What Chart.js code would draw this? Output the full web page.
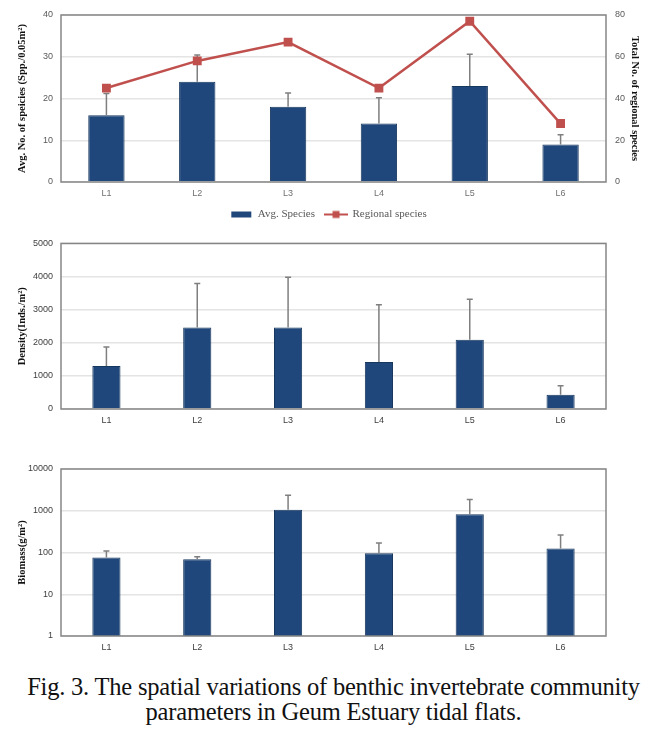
<!DOCTYPE html>
<html>
<head>
<meta charset="utf-8">
<script src="https://cdn.jsdelivr.net/npm/chart.js@4.4.0/dist/chart.umd.min.js"></script>
<style>
  html, body { margin: 0; padding: 0; background: #fff; }
  body { width: 667px; height: 735px; position: relative; overflow: hidden; }
  canvas { position: absolute; left: 0; }
  #caption {
    position: absolute; left: 0; top: 674px; width: 667px;
    text-align: center; font-family: "Liberation Serif", "DejaVu Serif", serif;
    font-size: 24.5px; line-height: 25px; color: #111; letter-spacing: -0.2px;
  }
</style>
</head>
<body>
<canvas id="speciesChart" width="667" height="230" style="top:0px"></canvas>
<canvas id="densityChart" width="667" height="200" style="top:230px"></canvas>
<canvas id="biomassChart" width="667" height="220" style="top:440px"></canvas>
<div id="caption">Fig. 3. The spatial variations of benthic invertebrate community<br>parameters in Geum Estuary tidal flats.</div>
<script>
// Estações
const sites = ['L1', 'L2', 'L3', 'L4', 'L5', 'L6'];

// Gráfico 1: número médio de espécies e espécies regionais
const avgSpecies = [16, 24, 18, 14, 23, 9];
const avgSpeciesSd = [5.2, 6.4, 3.3, 6.2, 7.6, 2.3];
const regionalSpecies = [45, 58, 67, 45, 77, 28];

// Gráfico 2: densidade
const density = [1300, 2460, 2460, 1420, 2090, 430];
const densitySd = [570, 1330, 1520, 1730, 1220, 270];

// Gráfico 3: biomassa (escala log)
const biomass = [76, 69, 1050, 96, 820, 125];
const biomassSd = [32, 10, 1290, 74, 1050, 137];
const biomassTicks = [1, 10, 100, 1000, 10000];

const barColor = '#1f477b';
const lineColor = '#c0504d';
const gridColor = '#e4e4e4';
const tickFont = { family: 'Liberation Sans', size: 9 };
const titleFont = { family: 'Liberation Serif', size: 10.5, weight: 'bold' };

// Barras de erro (só a parte de cima) + moldura da área do gráfico
const errorBarPlugin = {
    id: 'errorBars',
    afterDatasetDraw(chart, args, opts) {
        if (args.meta.type !== 'bar' || !opts.sd) return;
        const ctx = chart.ctx;
        const yScale = chart.scales[args.meta.yAxisID];
        const values = chart.data.datasets[args.index].data;
        ctx.save();
        ctx.strokeStyle = '#7f7f7f';
        ctx.lineWidth = 1.5;
        args.meta.data.forEach((bar, i) => {
            const yTop = yScale.getPixelForValue(values[i] + opts.sd[i]);
            const yBase = yScale.getPixelForValue(values[i]);
            ctx.beginPath();
            ctx.moveTo(bar.x, yBase);
            ctx.lineTo(bar.x, yTop);
            ctx.moveTo(bar.x - 3, yTop);
            ctx.lineTo(bar.x + 3, yTop);
            ctx.stroke();
        });
        ctx.restore();
    },
    afterDraw(chart) {
        const a = chart.chartArea;
        const ctx = chart.ctx;
        ctx.save();
        ctx.strokeStyle = '#868686';
        ctx.lineWidth = 1.5;
        ctx.strokeRect(a.left, a.top, a.right - a.left, a.bottom - a.top);
        ctx.restore();
    }
};

// Ícones da legenda
function legendIcon(kind, color) {
    const c = document.createElement('canvas');
    c.width = 24; c.height = 10;
    const g = c.getContext('2d');
    g.fillStyle = color;
    g.strokeStyle = color;
    if (kind === 'bar') {
        g.fillRect(2, 2, 20, 6);
    } else {
        g.lineWidth = 2;
        g.beginPath(); g.moveTo(0, 5); g.lineTo(24, 5); g.stroke();
        g.fillRect(8.5, 1.5, 7, 7);
    }
    return c;
}

function xAxis(height, color) {
    return {
        grid: { display: false, drawTicks: false },
        border: { display: false },
        ticks: { font: tickFont, color: color, padding: 6 },
        afterFit: s => { s.height = height; }
    };
}

function leftAxis(extra) {
    return Object.assign({
        position: 'left',
        grid: { color: gridColor, drawTicks: false, lineWidth: 1.5 },
        border: { display: false },
        afterFit: s => { s.width = 49; }
    }, extra);
}

// Gráfico 1
new Chart(document.getElementById('speciesChart').getContext('2d'), {
    data: {
        labels: sites,
        datasets: [
            {
                type: 'line', label: 'Regional species', data: regionalSpecies, yAxisID: 'y1', order: 0,
                borderColor: lineColor, backgroundColor: lineColor, borderWidth: 2.5,
                pointStyle: 'rect', pointRadius: 4.5, tension: 0
            },
            {
                type: 'bar', label: 'Avg. Species', data: avgSpecies, yAxisID: 'y', order: 1,
                backgroundColor: barColor, borderColor: '#17375e', borderWidth: 1,
                barPercentage: 0.4, categoryPercentage: 1
            }
        ]
    },
    options: {
        responsive: false,
        animation: false,
        layout: { padding: { top: 15, left: 12, right: 22 } },
        scales: {
            x: xAxis(17, '#707070'),
            y: leftAxis({
                min: 0, max: 40,
                ticks: { stepSize: 10, font: tickFont, color: '#595959', padding: 8 },
                title: { display: true, text: 'Avg. No. of speicies (Spp./0.05m²)', font: titleFont, color: '#111' }
            }),
            y1: {
                position: 'right', min: 0, max: 80,
                grid: { drawOnChartArea: false, drawTicks: false },
                border: { display: false },
                ticks: { stepSize: 20, font: tickFont, color: '#595959', padding: 9 },
                title: { display: true, text: 'Total No. of regional species', font: titleFont, color: '#111' },
                afterFit: s => { s.width = 39; }
            }
        },
        plugins: {
            errorBars: { sd: avgSpeciesSd },
            tooltip: { enabled: false },
            legend: {
                position: 'bottom',
                reverse: true,
                labels: {
                    usePointStyle: true,
                    pointStyleWidth: 22,
                    padding: 10,
                    font: { family: 'Liberation Serif', size: 11 },
                    color: '#595959',
                    generateLabels: chart => chart.data.datasets.map((ds, i) => ({
                        text: ds.label,
                        datasetIndex: i,
                        pointStyle: legendIcon(ds.type, ds.backgroundColor),
                        fillStyle: ds.backgroundColor,
                        strokeStyle: ds.backgroundColor,
                        lineWidth: 0,
                        fontColor: '#595959'
                    }))
                }
            }
        }
    },
    plugins: [errorBarPlugin]
});

// Gráfico 2
new Chart(document.getElementById('densityChart').getContext('2d'), {
    type: 'bar',
    data: {
        labels: sites,
        datasets: [{
            label: 'Density', data: density,
            backgroundColor: barColor, borderColor: '#17375e', borderWidth: 1,
            barPercentage: 0.31, categoryPercentage: 1
        }]
    },
    options: {
        responsive: false,
        animation: false,
        layout: { padding: { top: 12, left: 12, right: 61 } },
        scales: {
            x: xAxis(21, '#404040'),
            y: leftAxis({
                min: 0, max: 5000,
                ticks: { stepSize: 1000, font: tickFont, color: '#404040', padding: 8, callback: v => String(v) },
                title: { display: true, text: 'Density(Inds./m²)', font: titleFont, color: '#111' }
            })
        },
        plugins: {
            errorBars: { sd: densitySd },
            tooltip: { enabled: false },
            legend: { display: false }
        }
    },
    plugins: [errorBarPlugin]
});

// Gráfico 3
new Chart(document.getElementById('biomassChart').getContext('2d'), {
    type: 'bar',
    data: {
        labels: sites,
        datasets: [{
            label: 'Biomass', data: biomass,
            backgroundColor: barColor, borderColor: '#17375e', borderWidth: 1,
            barPercentage: 0.31, categoryPercentage: 1
        }]
    },
    options: {
        responsive: false,
        animation: false,
        layout: { padding: { top: 29, left: 12, right: 61 } },
        scales: {
            x: xAxis(24, '#404040'),
            y: leftAxis({
                type: 'logarithmic', min: 1, max: 10000,
                afterBuildTicks: s => { s.ticks = biomassTicks.map(v => ({ value: v })); },
                ticks: { font: tickFont, color: '#404040', padding: 8, callback: v => String(v) },
                title: { display: true, text: 'Biomass(g/m²)', font: titleFont, color: '#111' }
            })
        },
        plugins: {
            errorBars: { sd: biomassSd },
            tooltip: { enabled: false },
            legend: { display: false }
        }
    },
    plugins: [errorBarPlugin]
});
</script>
</body>
</html>
